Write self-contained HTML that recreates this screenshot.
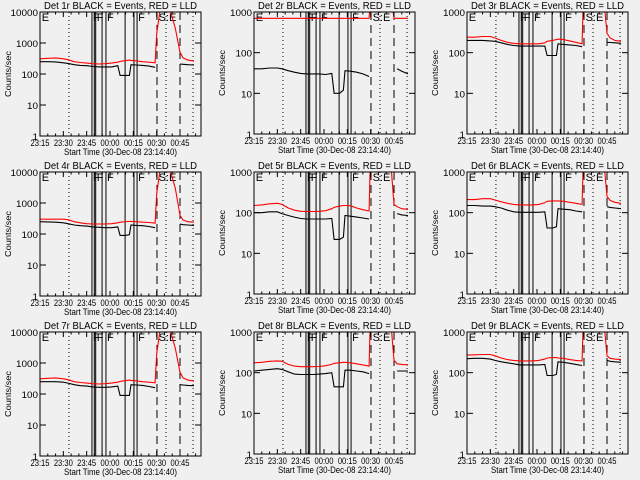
<!DOCTYPE html>
<html><head><meta charset="utf-8">
<style>
html,body{margin:0;padding:0;background:#f0f0f0;}
svg{display:block;font-family:"Liberation Sans",sans-serif;}
</style></head>
<body>
<svg id="c" width="640" height="480" viewBox="0 0 640 480"></svg>
<script>
const T=[0,5,10,15,18,22,26,30,34,38,42,46,50,51.5,55,57.5,58.5,62,66,70,74,75,77,84,87,90,92,95,99];
const N=null;
const black1=[250,250,245,230,220,200,190,185,175,170,170,170,185,90,90,90,200,195,190,180,165,N,N,N,N,210,205,200,195];
const red1=[310,320,330,310,290,250,235,225,215,210,215,225,240,255,270,280,275,265,250,240,230,2000,10000,10000,3000,500,330,280,260];
const black2=[40,40,42,42,40,36,33,31,30,30,30,29,31,10,10,12,36,35,33,30,26,N,N,N,N,N,40,35,30];
const red2=[700,700,700,700,700,700,700,700,700,700,700,700,700,700,700,700,700,700,700,700,700,5000,5000,5000,5000,700,700,700,700];
const black3=[200,200,200,195,190,175,160,150,145,145,145,145,145,85,85,85,165,160,155,150,140,N,N,N,N,180,178,175,170];
const red3=[240,240,250,250,230,200,180,170,165,165,165,165,175,190,200,210,215,210,195,180,165,5000,5000,5000,5000,300,230,200,190];
const black4=[250,245,240,230,215,195,185,180,170,165,160,160,170,90,90,95,195,190,185,175,160,N,N,N,N,210,200,195,190];
const red4=[300,300,300,300,290,250,230,215,210,210,210,215,230,240,250,255,255,250,240,235,225,2000,10000,10000,3000,400,280,250,240];
const black5=[100,100,105,105,95,85,78,72,70,70,70,70,72,22,22,25,85,82,78,74,70,N,N,N,N,N,95,88,85];
const red5=[150,155,165,170,160,130,115,108,107,107,108,112,125,135,145,150,150,148,130,118,110,5000,5000,5000,5000,160,140,125,120];
const black6=[150,150,145,145,140,130,115,105,102,102,102,102,105,42,42,45,125,122,118,110,105,N,N,N,N,140,135,130,125];
const red6=[210,210,220,220,205,185,170,160,155,155,155,160,175,190,195,195,195,190,180,170,160,5000,5000,5000,5000,250,200,180,170];
const black7=[250,250,250,240,225,200,185,180,170,165,165,170,180,90,90,90,200,195,190,175,160,N,N,N,N,200,195,190,185];
const red7=[310,320,330,310,290,250,235,225,215,210,215,225,240,255,270,280,275,265,250,240,230,2000,10000,10000,3000,500,330,280,260];
const black8=[110,115,120,125,120,105,92,90,90,90,92,95,100,45,45,45,115,115,110,105,95,N,N,N,N,N,110,110,110];
const red8=[175,180,190,195,190,160,145,140,140,140,142,148,160,170,175,180,180,175,165,155,145,5000,5000,5000,5000,200,165,160,155];
const black9=[220,225,225,215,200,185,175,165,155,155,155,155,160,85,85,90,185,180,170,160,150,N,N,N,N,200,190,185,180];
const red9=[270,275,280,280,260,230,210,200,195,195,195,200,215,230,235,235,230,225,210,200,195,5000,5000,5000,5000,260,225,215,210];
const blacks=[black1,black2,black3,black4,black5,black6,black7,black8,black9];
const reds=[red1,red2,red3,red4,red5,red6,red7,red8,red9];
const ymaxDec=[4,3,3,4,3,3,4,3,3];
const xTickLabels=["23:15","23:30","23:45","00:00","00:15","00:30","00:45"];
const xTickMin=[0,15,30,45,60,75,90];
const dotted=[18.6,81,98.4];
const dashed=[75.2,90];
const solid=[33.4,34.9,35.8,39.9,42.4,54.7,60.4,62.4];
const flags=[["E",0.5],["F",33.4],["F",35.8],["F",42.4],["F",62.4],["S:E",75.6]];
const XMAX=103.5;
const NS="http://www.w3.org/2000/svg";
const svg=document.getElementById('c');
function mk(tag,attrs,parent){const e=document.createElementNS(NS,tag);for(const k in attrs)e.setAttribute(k,attrs[k]);(parent||svg).appendChild(e);return e;}
const colX=[40,254,467];
for(let p=0;p<9;p++){
  const col=p%3,row=Math.floor(p/3);
  const L=colX[col],W=161,Tp=12+row*160,B=(col==0?136:134)+row*160,H=B-Tp;
  const g=mk('g',{});
  
  
  const dec=ymaxDec[p];
  const xs=t=>L+t/XMAX*W;
  const ys=v=>B-Math.log10(v)/dec*H;
  const cid='clip'+p;
  const cp=mk('clipPath',{id:cid},g);mk('rect',{x:L,y:Tp,width:W,height:H},cp);
  const tt=mk('text',{x:L+W/2,y:Tp-3,'text-anchor':'middle','font-size':'10',textLength:153,lengthAdjust:'spacingAndGlyphs'},g);
  tt.textContent='Det '+(p+1)+'r BLACK = Events, RED = LLD';
  
  
  dotted.forEach(t=>{const l=mk('line',{x1:xs(t),x2:xs(t),y1:Tp,y2:B,stroke:'#000','stroke-width':1,'stroke-dasharray':'1,3'},g);
    });
  dashed.forEach(t=>{const l=mk('line',{x1:xs(t),x2:xs(t),y1:Tp,y2:B,stroke:'#000','stroke-width':1,'stroke-dasharray':'8,5'},g);
    });
  solid.forEach(t=>{const l=mk('line',{x1:xs(t),x2:xs(t),y1:Tp,y2:B,stroke:'#000','stroke-width':1},g);
    });
  flags.forEach(f=>{const e=mk('text',{x:xs(f[1])+1,y:Tp+9,'font-size':'11'},g);e.textContent=f[0];
    });
  [[blacks[p],'#000','black-events-line'],[reds[p],'#ff0000','red-lld-line']].forEach(s=>{
    let d='',pen=false;
    s[0].forEach((v,i)=>{if(v==null){pen=false;return;}d+=(pen?'L':'M')+xs(T[i]).toFixed(1)+','+ys(v).toFixed(1);pen=true;});
    const path=mk('path',{d:d,fill:'none',stroke:s[1],'stroke-width':1.1,'clip-path':'url(#'+cid+')'},g);
    
  });
  const fr=mk('rect',{x:L,y:Tp,width:W,height:H,fill:'none',stroke:'#000','stroke-width':1},g);
  
  for(let m=0;m<=100;m+=5){const major=m%15==0;const len=major?5:2.5;
    mk('line',{x1:xs(m),x2:xs(m),y1:B,y2:B-len,stroke:'#000'},g);
    mk('line',{x1:xs(m),x2:xs(m),y1:Tp,y2:Tp+len,stroke:'#000'},g);}
  xTickMin.forEach((m,i)=>{const e=mk('text',{x:xs(m),y:B+10,'text-anchor':'middle','font-size':'9',textLength:19,lengthAdjust:'spacingAndGlyphs'},g);e.textContent=xTickLabels[i];
    });
  const xt=mk('text',{x:L+W/2,y:B+19,'text-anchor':'middle','font-size':'9.5',textLength:113,lengthAdjust:'spacingAndGlyphs'},g);
  xt.textContent='Start Time (30-Dec-08 23:14:40)';
  
  for(let k=0;k<=dec;k++){const y=ys(Math.pow(10,k));
    mk('line',{x1:L,x2:L+6,y1:y,y2:y,stroke:'#000'},g);mk('line',{x1:L+W,x2:L+W-6,y1:y,y2:y,stroke:'#000'},g);
    const s=String(Math.pow(10,k));
    const e=mk('text',{x:L-2,y:y+4,'text-anchor':'end','font-size':'9',textLength:s.length*5.5,lengthAdjust:'spacingAndGlyphs'},g);e.textContent=s;
    
  }
  const yt=mk('text',{x:0,y:0,'text-anchor':'middle','font-size':'8.5',textLength:46,lengthAdjust:'spacingAndGlyphs',transform:'translate('+(L-29)+','+(Tp+H/2)+') rotate(-90)'},g);
  yt.textContent='Counts/sec';
  
}
</script>
</body></html>
